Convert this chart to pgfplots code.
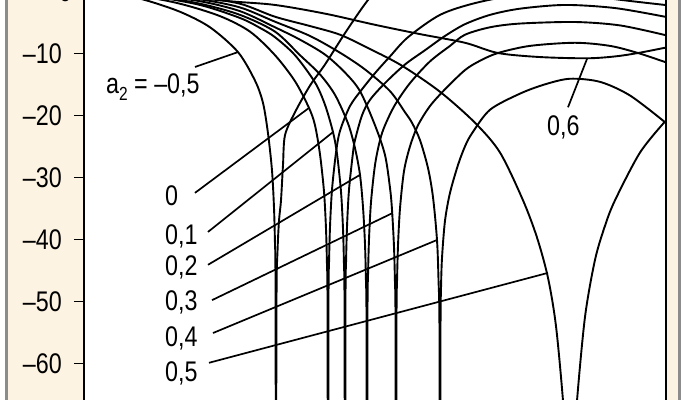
\documentclass[border=0pt]{standalone}
\usepackage{fontspec}
\setmainfont{Liberation Sans}[FakeStretch=0.82]
\usepackage{pgfplots}
\pgfplotsset{compat=1.18}
\definecolor{beige}{RGB}{253,243,226}
\definecolor{framegray}{RGB}{140,140,140}
\begin{document}
\begin{tikzpicture}[font=\fontsize{28.5}{33}\selectfont]
\fill[beige] (-76bp,-10bp) rectangle (595bp,410bp);
\draw[framegray, line width=3bp] (-77.5bp,-10bp) -- (-77.5bp,410bp);
\draw[framegray, line width=3bp] (595bp,-10bp) -- (595bp,410bp);
\begin{axis}[scale only axis, width=582bp, height=400bp,
  xmin=84, xmax=666, ymin=-65.9, ymax=-1.4,
  axis background/.style={fill=white},
  axis line style={draw=none},
  xtick=\empty,
  ytick={-60,-50,-40,-30,-20,-10},
  yticklabels={–60,–50,–40,–30,–20,–10},
  ytick pos=left, tick align=outside, major tick length=10bp,
  every tick/.style={black, line width=1.6bp},
  yticklabel style={anchor=east, inner sep=0pt, xshift=-12bp},
  c/.style={black, line width=1.9bp, smooth, tension=0.5},
]
% a2 = -0.5
\addplot[c] coordinates {(85,0)(120,-0.6)(145,-1.4)(180,-3.3)(210,-5.8)(238,-9.8)(255,-14.4)(263,-18)(268,-22.9)(272,-28.9)(274,-34.9)(275,-40.9)(275.5,-47)(276,-95)};
\addplot[c] coordinates {(276,-95)(276.5,-50)(277.5,-42)(279,-37)(281,-33.7)(283,-28)(285,-23.2)(295,-19.5)(310,-15.2)(325,-11.8)(346,-6.5)(368,-1.4)(390,2.5)};
% a2 = 0
\addplot[c] coordinates {(85,0)(140,-0.8)(180,-2)(220,-4)(250,-6.5)(275,-10.3)(295,-14.5)(309,-18.8)(315,-21.6)(320,-26.3)(324,-32.3)(326,-38.3)(327,-44.3)(327.5,-50.4)(328,-95)};
\addplot[c] coordinates {(328,-95)(328.5,-50)(329,-44)(330,-38)(332,-32)(336,-26)(340,-22.5)(350,-18.5)(362,-15.8)(375,-13.2)(390,-10.5)(408,-7.4)(440,-3.8)(475,-1.9)(520,-0.5)(565,0)(612,-1.2)(665,-2.2)};
% a2 = 0.1
\addplot[c] coordinates {(85,0)(150,-0.8)(200,-2.2)(240,-4.3)(260,-5.9)(275,-7.4)(295,-10.3)(315,-14.7)(325,-18.3)(333,-22.7)(337,-26.2)(341,-32.3)(343,-38.3)(344,-44.3)(344.5,-50.4)(345,-95)};
\addplot[c] coordinates {(345,-95)(345.5,-50)(346,-44)(347,-38)(349,-32)(353,-26)(355,-24)(362,-20)(370,-17.5)(385,-14.8)(405,-11.8)(425,-9.5)(445,-7.2)(465,-5.3)(490,-3.8)(520,-2.8)(565,-2.2)(615,-2.7)(665,-4.1)};
% a2 = 0.2
\addplot[c] coordinates {(85,0)(150,-0.7)(200,-2)(240,-3.8)(275,-6.5)(300,-10.3)(320,-13.4)(335,-16.7)(348,-21.3)(355,-25.3)(360,-29.6)(363,-34.8)(365,-40.8)(366,-47)(366.5,-53)(367,-95)};
\addplot[c] coordinates {(367,-95)(367.5,-52)(368,-46)(369,-40)(371,-34)(375,-28)(380,-24)(385,-21.6)(395,-18.3)(410,-14.8)(430,-11.3)(450,-8.8)(465,-7.0)(490,-5.8)(520,-5.2)(575,-4.95)(620,-5.5)(665,-7.05)};
% a2 = 0.3
\addplot[c] coordinates {(85,0)(150,-0.6)(200,-1.6)(240,-3.2)(275,-5.8)(300,-7.8)(325,-10.2)(345,-13.1)(360,-16.1)(375,-21.6)(385,-26.4)(390,-31.7)(392,-35.2)(394,-41.2)(395,-47.2)(395.5,-53)(396,-95)};
\addplot[c] coordinates {(396,-95)(396.5,-53)(397,-47)(398,-41)(400,-35)(404,-29)(410,-25)(418,-21.6)(430,-18.5)(445,-15.8)(465,-12.7)(480,-11.2)(498,-9.95)(530,-8.8)(575,-8.3)(610,-8.8)(638,-9.95)(665,-11.4)};
% a2 = 0.4
\addplot[c] coordinates {(85,0)(150,-0.5)(200,-1.3)(240,-2.6)(275,-4.9)(310,-7.2)(340,-9.9)(365,-12.6)(390,-16.1)(405,-19.5)(412,-21.2)(420,-24.0)(428,-28.5)(433,-33.2)(437,-40.1)(438.5,-46.5)(439.5,-55)(440,-95)};
\addplot[c] coordinates {(440,-95)(440.5,-55)(441,-48)(442,-43)(445,-37)(450,-32.5)(458,-28)(465,-25)(472,-22.9)(490,-19.1)(520,-16.5)(545,-15)(570,-14.1)(600,-14.6)(630,-16.8)(665,-21.1)};
% a2 = 0.5
\addplot[c] coordinates {(85,0)(150,-0.4)(200,-1.0)(240,-2.0)(275,-4.1)(310,-5.6)(340,-7.0)(370,-9.3)(402,-12.0)(440,-16.2)(475,-21.2)(500,-26.0)(523,-33.7)(537,-39.7)(548,-46.2)(556,-54)(563,-66)(567,-76)(570,-95)};
\addplot[c] coordinates {(570,-95)(573,-76)(577,-66)(585,-52.5)(595,-43.3)(605,-37.8)(615,-33.7)(640,-26.0)(665,-21.0)};
% a2 = 0.6
\addplot[c] coordinates {(85,0)(150,-0.4)(230,-1.6)(275,-2.2)(325,-3.6)(375,-5.4)(420,-6.9)(465,-8.3)(498,-9.95)(540,-10.6)(587,-10.8)(615,-10.5)(638,-9.95)(665,-9.1)};
% leader lines
\draw[black, line width=1.7bp] (axis cs:195,-12.2) -- (axis cs:238,-9.8);
\draw[black, line width=1.7bp] (axis cs:195,-32.5) -- (axis cs:309,-18.8);
\draw[black, line width=1.7bp] (axis cs:208,-38.8) -- (axis cs:333,-22.7);
\draw[black, line width=1.7bp] (axis cs:208,-44.1) -- (axis cs:360,-29.6);
\draw[black, line width=1.7bp] (axis cs:212,-49.8) -- (axis cs:392,-35.8);
\draw[black, line width=1.7bp] (axis cs:213,-55.1) -- (axis cs:437,-40.1);
\draw[black, line width=1.7bp] (axis cs:209,-59.9) -- (axis cs:548,-45.4);
\draw[black, line width=1.7bp] (axis cs:568,-18.7) -- (axis cs:587,-10.9);
% labels
\node[anchor=base west, inner sep=0pt] at (axis cs:106,-16.4) {a\raisebox{-0.28em}{\fontsize{19}{20}\selectfont 2} = –0,5};
\node[anchor=base west, inner sep=0pt] at (axis cs:165,-34.5) {0};
\node[anchor=base west, inner sep=0pt] at (axis cs:165,-40.9) {0,1};
\node[anchor=base west, inner sep=0pt] at (axis cs:165,-45.8) {0,2};
\node[anchor=base west, inner sep=0pt] at (axis cs:165,-51.4) {0,3};
\node[anchor=base west, inner sep=0pt] at (axis cs:165,-57.2) {0,4};
\node[anchor=base west, inner sep=0pt] at (axis cs:165,-62.9) {0,5};
\node[anchor=base west, inner sep=0pt] at (axis cs:547,-23.2) {0,6};
\coordinate (z) at (axis cs:84,0);
\end{axis}
\draw[black, line width=1.6bp] (z) -- ++(-10bp,0);
\node[anchor=east, inner sep=0pt, xshift=-12bp] at (z) {0};
\draw[black, line width=2bp] (0,-10bp) -- (0,410bp);
\draw[black, line width=2bp] (582bp,-10bp) -- (582bp,410bp);
\pgfresetboundingbox
\path[use as bounding box] (-84bp,0) rectangle (601bp,400bp);
\end{tikzpicture}
\end{document}
